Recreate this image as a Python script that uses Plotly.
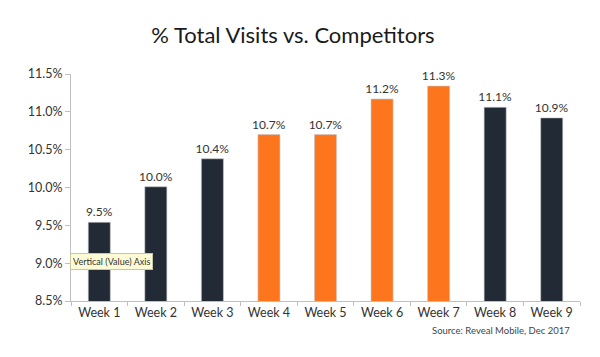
import plotly.graph_objects as go

weeks = ["Week 1", "Week 2", "Week 3", "Week 4", "Week 5", "Week 6", "Week 7", "Week 8", "Week 9"]
visits_pct = [9.54, 10.01, 10.38, 10.70, 10.70, 11.17, 11.34, 11.06, 10.92]
highlight = [False, False, False, True, True, True, True, False, False]
y_ticks = [8.5, 9.0, 9.5, 10.0, 10.5, 11.0, 11.5]

DARK = "#222a35"
ORANGE = "#fd761d"
colors = [ORANGE if h else DARK for h in highlight]
labels = [f"{v:.1f}%" for v in visits_pct]

fig = go.Figure(go.Bar(
    x=weeks, y=visits_pct, marker=dict(color=colors, line=dict(color="#c8c8c8", width=0.6)),
    text=labels, textposition="outside", cliponaxis=False, constraintext="none",
    textfont=dict(size=12, color="#333333"), width=0.39,
))

fig.update_layout(
    width=600, height=357,
    margin=dict(l=63, r=28, t=66, b=64),
    paper_bgcolor="white", plot_bgcolor="white",
    font=dict(family="Lato, 'Noto Sans', sans-serif", color="#333333"),
    title=dict(text="% Total Visits vs. Competitors", x=0.475, xanchor="center",
               y=0.924, yanchor="middle", yref="container",
               font=dict(size=22, color="#1a1a1a")),
    showlegend=False,
    xaxis=dict(showline=True, linecolor="#bfbfbf", linewidth=1, ticks="outside",
               tickson="boundaries", tickcolor="#bfbfbf", ticklen=4,
               tickfont=dict(size=12.5, color="#333333"), showgrid=False),
    yaxis=dict(range=[8.5, 11.5], tickvals=y_ticks,
               ticktext=[f"{t:.1f}%" for t in y_ticks],
               showline=True, linecolor="#bfbfbf", linewidth=1, ticks="outside",
               tickcolor="#bfbfbf", ticklen=5, showgrid=False, zeroline=False,
               tickfont=dict(size=12.5, color="#333333")),
    annotations=[
        dict(text="Source: Reveal Mobile, Dec 2017", xref="paper", yref="paper",
             x=0.984, y=-0.132, xanchor="right", yanchor="middle", showarrow=False,
             font=dict(size=9.5, color="#444444")),
        dict(text="Vertical (Value) Axis", xref="paper", yref="paper",
             x=-0.002, y=0.172, xanchor="left", yanchor="middle", showarrow=False,
             bgcolor="#fdfbd6", bordercolor="#c8c8a0", borderwidth=1, borderpad=2,
             font=dict(size=9, color="#333333")),
    ],
)

fig.write_html("out.html")
